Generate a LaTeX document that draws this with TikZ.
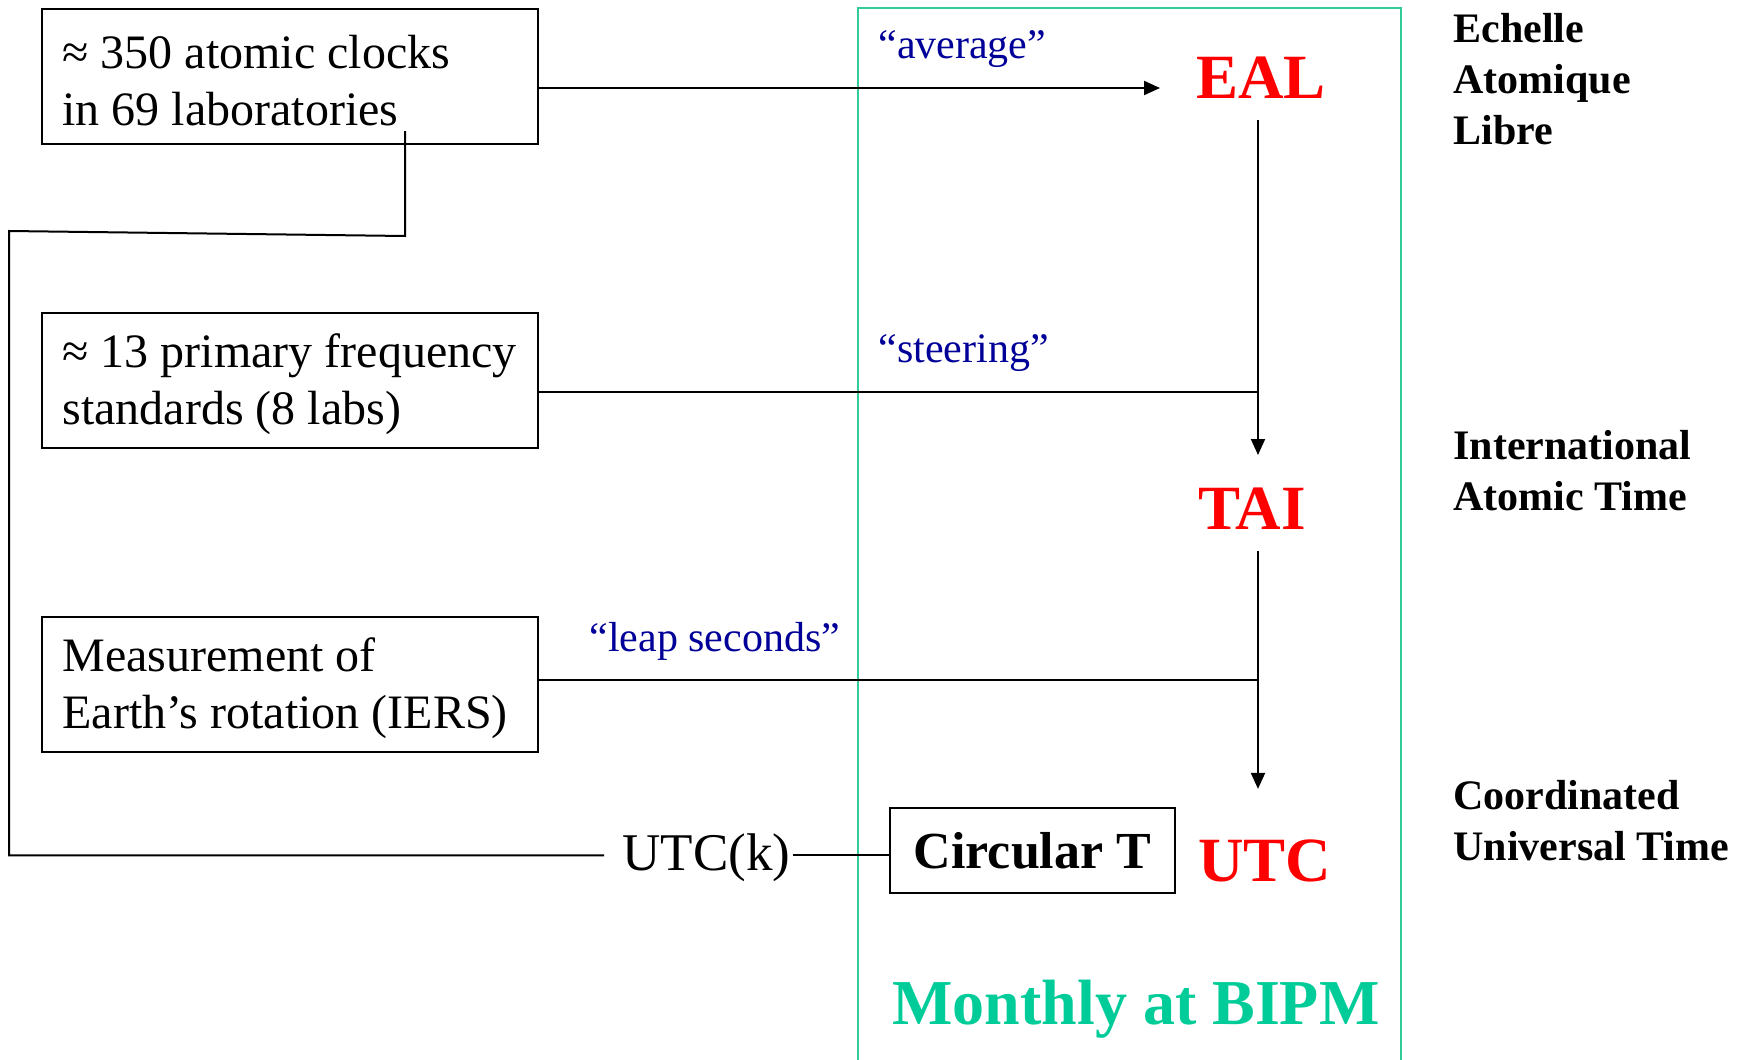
\documentclass[tikz,border=0pt]{standalone}
\usepackage{fontspec}
\setmainfont{Liberation Serif}
\usetikzlibrary{arrows.meta}
\definecolor{navy}{RGB}{0,0,153}
\definecolor{bipm}{RGB}{0,204,153}
\definecolor{bipmline}{RGB}{51,204,153}
\definecolor{hot}{RGB}{255,0,0}
\begin{document}
\begin{tikzpicture}[x=0.5pt,y=-0.5pt,
  conn/.style={draw=black, line width=1pt},
  arr/.style={conn, -{Triangle[length=8pt,width=7pt]}},
  srcbox/.style={draw, line width=1pt, anchor=north west, minimum width=248pt,
    minimum height=67.5pt, text width=227.5pt, inner xsep=10pt, inner ysep=0pt, align=left,
    execute at begin node={\spaceskip=0pt\xspaceskip=0pt\hyphenpenalty=10000\rule{0pt}{21pt}},
    font=\fontsize{24}{28.5}\selectfont},
  tscale/.style={text=hot, inner sep=0pt, anchor=base west, font=\bfseries\fontsize{31.5}{36}\selectfont},
  quote/.style={text=navy, inner sep=0pt, anchor=base west, font=\fontsize{21}{25}\selectfont},
  lab/.style={inner sep=0pt, anchor=north west, align=left, font=\bfseries\fontsize{21}{25.5}\selectfont},
]
\useasboundingbox (0,0) rectangle (1753,1060);
\fill[white] (0,0) rectangle (1753,1060);

% BIPM frame
\draw[bipmline, line width=1pt] (857.5,1062) -- (857.5,8) -- (1401,8) -- (1401,1062);
\node[text=bipm, inner sep=0pt, anchor=base west, font=\bfseries\fontsize{32}{38}\selectfont] (bipm) at (892,1024) {Monthly at BIPM};

% source boxes
\node[srcbox] (clk) at (41,8) {≈ 350 atomic clocks\\in 69 laboratories};
\node[srcbox] (std) at (41,312) {≈ 13 primary frequency\\standards (8 labs)};
\node[srcbox] (iers) at (41,616) {Measurement of\\Earth’s rotation (IERS)};

% time scales
\node[tscale] (EAL) at (1196,98) {EAL};
\node[tscale] (TAI) at (1198,529) {TAI};
\node[tscale] (UTC) at (1198,881) {UTC};

% labels on the right
\node[lab] (eallab) at (1453,13) {Echelle\\Atomique\\Libre};
\node[lab] (tailab) at (1453,430) {International\\Atomic Time};
\node[lab] (utclab) at (1453,780) {Coordinated\\Universal Time};

% quoted operations
\node[quote] (avg) at (878,58) {“average”};
\node[quote] (steer) at (878,362) {“steering”};
\node[quote] (leap) at (589,651) {“leap seconds”};

% UTC(k) and Circular T
\node[inner sep=0pt, anchor=base west, font=\fontsize{26.5}{30}\selectfont] (utck) at (622,870) {UTC(k)};
\node[draw, line width=1pt, anchor=north west, minimum width=142.5pt, minimum height=42.5pt,
  inner sep=0pt, font=\bfseries\fontsize{26}{30}\selectfont] (circT) at (889,807) {Circular T};

% connectors
\coordinate (spine) at (1258,0);
\coordinate (a1) at ([yshift=-5.75pt]clk.east);
\draw[arr, shorten >=18pt] (a1) -- (a1 -| EAL.west);
\draw[arr, shorten <=11pt, shorten >=16pt] (EAL.south -| spine) -- (TAI.north -| spine);
\coordinate (a2) at ([yshift=-5.75pt]std.east);
\draw[conn] (a2) -- (a2 -| spine);
\draw[arr, shorten <=11pt, shorten >=25pt] (TAI.south -| spine) -- (UTC.north -| spine);
\coordinate (a3) at ([yshift=2.25pt]iers.east);
\draw[conn] (a3) -- (a3 -| spine);

\coordinate (loopA) at (405,131);
\coordinate (loopB) at (9,231);
\coordinate (utcin) at ([xshift=-9pt,yshift=1pt]utck.west);
\draw[conn] (loopA) -- (405,236) -- (loopB) -- (loopB |- utcin) -- (utcin);
\coordinate (utcout) at ([xshift=1pt,yshift=1pt]utck.east);
\draw[conn] (utcout) -- (utcout -| circT.west);
\end{tikzpicture}
\end{document}
